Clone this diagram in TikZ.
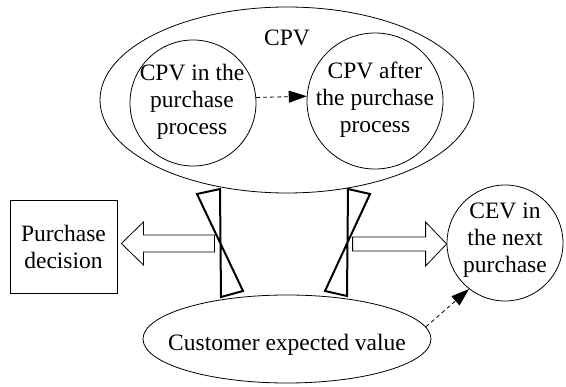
\documentclass[tikz,border=0pt]{standalone}
\usepackage{fontspec}
\setmainfont{Liberation Serif}
\usetikzlibrary{arrows.meta,shapes.geometric}
\begin{document}
\begin{tikzpicture}[x=1pt,y=-1pt,
  thin line/.style={line width=0.8pt},
  txt/.style={align=center,inner sep=0pt,font=\fontsize{23.5}{27}\selectfont},
  bubble/.style={circle,draw,thin line,inner sep=0pt},
  oval/.style={ellipse,draw,thin line,inner sep=0pt},
  dasharrow/.style={thin line,dash pattern=on 4pt off 3pt,
    -{Triangle[length=18pt,width=12pt]}},
  blockarrow/.style={draw,thin line,line join=miter},
  gate/.style={draw,line width=2pt,line join=miter}]
\useasboundingbox (0,0) rectangle (566,387);

% outer CPV ellipse with its two stages
\node[oval,minimum width=374pt,minimum height=186pt] (cpv) at (287,100) {};
\node[txt] (cpvtitle) at (287,38) {CPV};
\node[bubble,minimum size=126pt] (inproc) at (193,103) {};
\node[txt] (inproctxt) at (192,101.5) {CPV in the\\purchase\\process};
\node[bubble,minimum size=136pt] (afterproc) at (375,101) {};
\node[txt] (afterproctxt) at (375,100) {CPV after\\the purchase\\process};
\draw[dasharrow] (inproc.5.5) -- (afterproc.176.6);

% purchase decision box
\node[draw,thin line,minimum width=107pt,minimum height=93pt,inner sep=0pt] (decision) at (63.5,246.5) {};
\node[txt] (decisiontxt) at (63.5,247) {Purchase\\decision};

% customer expected value ellipse
\node[oval,minimum width=288pt,minimum height=88pt] (cev) at (287,339) {};
\node[txt] (cevtxt) at (287,345) {Customer expected value};

% CEV in the next purchase
\node[bubble,minimum size=116pt] (next) at (505,243) {};
\node[txt] (nexttxt) at (505,240) {CEV in\\the next\\purchase};
\draw[dasharrow] (cev.5) -- (next.232);

% hollow block arrows
\draw[blockarrow] (decision.east) ++(4,-3) coordinate (ltip)
  -- ++(22,-21.5) -- ++(0,13) -- ++(71,0) -- ++(0,17) -- ++(-71,0)
  -- ++(0,13) -- cycle;
\draw[blockarrow] (next.west) ++(0,1) coordinate (rtip)
  -- ++(-21,-22) -- ++(0,15) -- ++(-73,0) -- ++(0,14) -- ++(73,0)
  -- ++(0,15) -- cycle;

% bow-tie gates between the ellipses
\draw[gate] (197,194) -- (220,189) -- (221,297) -- (243,291) -- cycle;
\draw[gate] (370,194) -- (348,189) -- (347,296) -- (325,291) -- cycle;
\end{tikzpicture}
\end{document}
